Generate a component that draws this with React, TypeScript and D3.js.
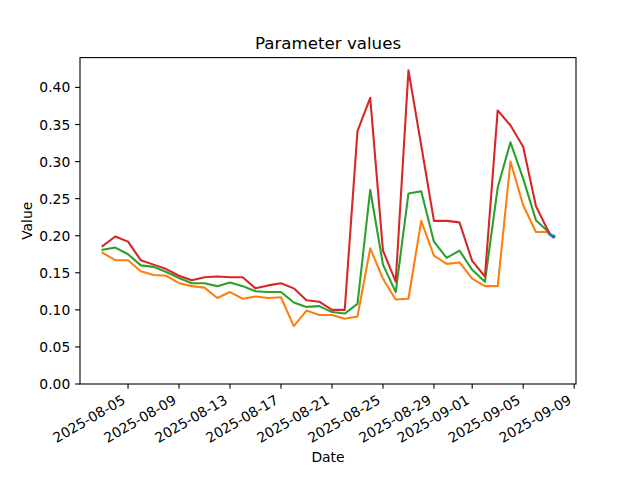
import React from "react";
import * as d3 from "d3";

const dates: string[] = [
  "2025-08-03","2025-08-04","2025-08-05","2025-08-06","2025-08-07","2025-08-08",
  "2025-08-09","2025-08-10","2025-08-11","2025-08-12","2025-08-13","2025-08-14",
  "2025-08-15","2025-08-16","2025-08-17","2025-08-18","2025-08-19","2025-08-20",
  "2025-08-21","2025-08-22","2025-08-23","2025-08-24","2025-08-25","2025-08-26",
  "2025-08-27","2025-08-28","2025-08-29","2025-08-30","2025-08-31","2025-09-01",
  "2025-09-02","2025-09-03","2025-09-04","2025-09-05","2025-09-06","2025-09-07",
];

const orangeValues: number[] = [
  0.177,0.167,0.167,0.152,0.147,0.146,0.136,0.132,0.130,0.116,0.124,0.115,
  0.118,0.116,0.117,0.078,0.099,0.093,0.093,0.088,0.091,0.183,0.142,0.114,
  0.115,0.220,0.173,0.162,0.164,0.142,0.132,0.132,0.300,0.241,0.205,0.205,
];

const greenValues: number[] = [
  0.181,0.184,0.175,0.160,0.158,0.151,0.143,0.136,0.136,0.132,0.137,0.132,
  0.125,0.124,0.124,0.110,0.104,0.105,0.097,0.095,0.108,0.262,0.161,0.124,
  0.257,0.260,0.192,0.170,0.180,0.154,0.138,0.265,0.326,0.277,0.221,0.205,
];

const redValues: number[] = [
  0.186,0.199,0.192,0.167,0.161,0.155,0.146,0.140,0.144,0.145,0.144,0.144,
  0.129,0.133,0.136,0.129,0.113,0.111,0.100,0.100,0.341,0.386,0.180,0.138,
  0.423,0.322,0.220,0.220,0.218,0.166,0.145,0.369,0.349,0.320,0.240,0.205,
];

const blueDates: string[] = ["2025-09-07T00:00", "2025-09-07T04:00", "2025-09-07T09:00"];
const blueValues: number[] = [0.204, 0.201, 0.199];

const xTickLabels: string[] = [
  "2025-08-05","2025-08-09","2025-08-13","2025-08-17","2025-08-21",
  "2025-08-25","2025-08-29","2025-09-01","2025-09-05","2025-09-09",
];
const yTicks: number[] = [0, 0.05, 0.1, 0.15, 0.2, 0.25, 0.3, 0.35, 0.4];

const W = 640, H = 480;
const L = 80, R = 576, T = 57.6, B = 384;
const FONT = "DejaVu Sans, sans-serif";
const FS = 13.89;

const parse = (s: string) => new Date(s.length > 10 ? s : s + "T00:00");

export default function App() {
  const dts = dates.map(parse);
  const bdts = blueDates.map(parse);
  const allT = [...dts, ...bdts].map((d) => d.getTime());
  const tMin = d3.min(allT)!, tMax = d3.max(allT)!;
  const pad = (tMax - tMin) * 0.05;
  const x = d3.scaleTime().domain([new Date(tMin - pad), new Date(tMax + pad)]).range([L, R]);

  const allV = [...orangeValues, ...greenValues, ...redValues, ...blueValues];
  const vMin = d3.min(allV)!, vMax = d3.max(allV)!;
  const y = d3.scaleLinear().domain([0, vMax + (vMax - vMin) * 0.05]).range([B, T]);

  const line = d3.line<[Date, number]>().x((d) => x(d[0])).y((d) => y(d[1]));
  const mk = (vals: number[]) => line(vals.map((v, i) => [dts[i], v] as [Date, number]))!;
  const blue = line(blueValues.map((v, i) => [bdts[i], v] as [Date, number]))!;

  const asc = FS * 0.76, desc = FS * 0.24;

  return (
    <svg width={W} height={H} style={{ display: "block", position: "absolute", left: 0, top: 0 }} fontFamily={FONT}>
      <rect x={0} y={0} width={W} height={H} fill="#fff" />
      <defs>
        <clipPath id="plotclip"><rect x={L} y={T} width={R - L} height={B - T} /></clipPath>
      </defs>
      <g clipPath="url(#plotclip)" fill="none" strokeWidth={2.08} strokeLinejoin="round" strokeLinecap="square">
        <path d={blue} stroke="#1f77b4" strokeWidth={3} />
        <path d={mk(orangeValues)} stroke="#ff7f0e" />
        <path d={mk(greenValues)} stroke="#2ca02c" />
        <path d={mk(redValues)} stroke="#d62728" />
        <circle cx={x(bdts[bdts.length - 1])} cy={y(blueValues[blueValues.length - 1])} r={2} fill="#1f77b4" />
      </g>
      <rect x={L} y={T} width={R - L} height={B - T} fill="none" stroke="#000" strokeWidth={1.1} />
      {yTicks.map((t) => (
        <g key={t}>
          <line x1={L} x2={L - 4.86} y1={y(t)} y2={y(t)} stroke="#000" strokeWidth={1.1} />
          <text x={L - 4.86 - 4.86} y={y(t)} dy="0.36em" textAnchor="end" fontSize={FS} fill="#000">{t.toFixed(2)}</text>
        </g>
      ))}
      {xTickLabels.map((s) => {
        const tx = x(parse(s));
        const ax = tx - 0.5 * desc;
        const ay = B + 4.86 + 4.86 + 0.866 * asc;
        return (
          <g key={s}>
            <line x1={tx} x2={tx} y1={B} y2={B + 4.86} stroke="#000" strokeWidth={1.1} />
            <text x={ax} y={ay} textAnchor="end" fontSize={FS} fill="#000" transform={`rotate(-30, ${ax}, ${ay})`}>{s}</text>
          </g>
        );
      })}
      <text x={(L + R) / 2} y={462} textAnchor="middle" fontSize={FS} fill="#000">Date</text>
      <text x={0} y={0} transform={`translate(32, ${(T + B) / 2}) rotate(-90)`} textAnchor="middle" fontSize={FS} fill="#000">Value</text>
      <text x={(L + R) / 2} y={49} textAnchor="middle" fontSize={16.67} fill="#000">Parameter values</text>
    </svg>
  );
}
